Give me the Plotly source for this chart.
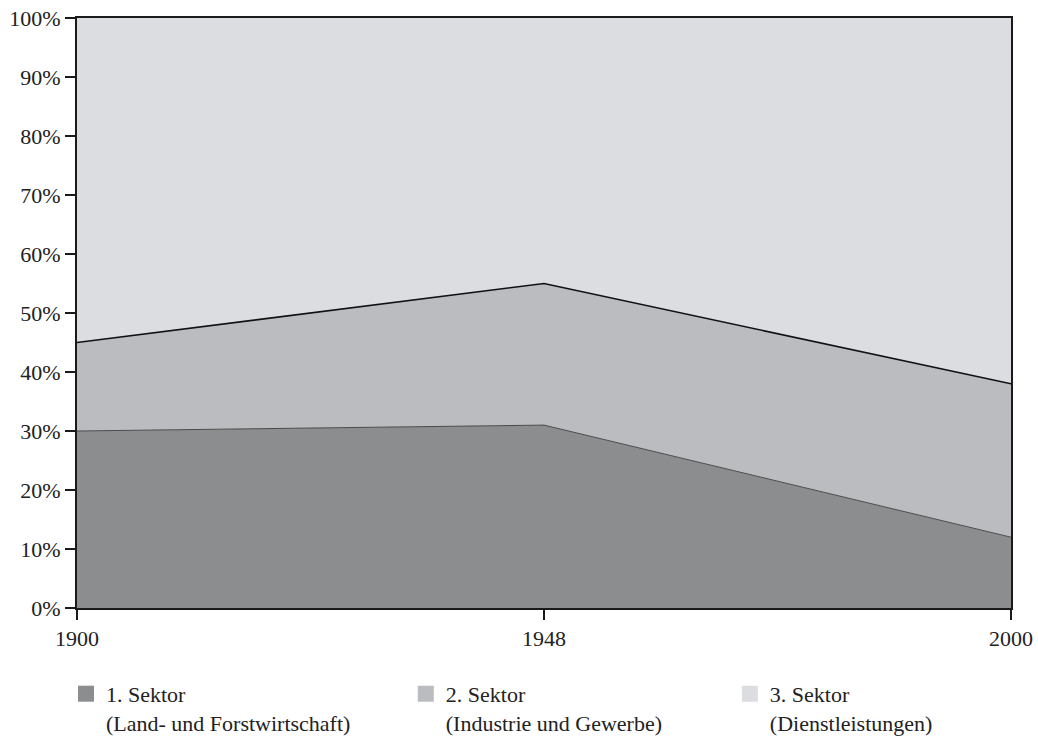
import plotly.graph_objects as go

years = ["1900", "1948", "2000"]
sektor1 = [30, 31, 12]
sektor2 = [15, 24, 26]
sektor3 = [55, 45, 62]
names = ["1. Sektor<br>(Land- und Forstwirtschaft)",
         "2. Sektor<br>(Industrie und Gewerbe)",
         "3. Sektor<br>(Dienstleistungen)"]
colors = ["#8c8d8f", "#bbbcc0", "#dcdde0"]
line_colors = ["#4a4a4a", "#111111", "#dcdde0"]
line_widths = [1, 1.6, 0]
y_ticks = [0, 10, 20, 30, 40, 50, 60, 70, 80, 90, 100]
y_ticklabels = [f"{v}%" for v in y_ticks]

FONT = "Liberation Serif"
fig = go.Figure()
series = [sektor1, sektor2, sektor3]
for i, vals in enumerate(series):
    fig.add_trace(go.Scatter(
        x=years, y=vals, mode="lines", stackgroup="one",
        fillcolor=colors[i],
        line=dict(color=line_colors[i], width=line_widths[i]),
        showlegend=False, hoverinfo="skip"))

legend_ids = ["legend", "legend2", "legend3"]
for i in range(3):
    fig.add_trace(go.Scatter(
        x=[None], y=[None], mode="markers", name=names[i],
        marker=dict(symbol="square", size=16, color=colors[i]),
        legend=legend_ids[i], showlegend=True))

leg_common = dict(orientation="v", yanchor="top", xanchor="left", valign="top",
                  font=dict(family=FONT, size=22, color="#222"),
                  bgcolor="rgba(0,0,0,0)", itemwidth=30)
fig.update_layout(
    width=1038, height=736,
    margin=dict(l=77, r=27, t=18, b=128, autoexpand=False),
    paper_bgcolor="white", plot_bgcolor="white",
    font=dict(family=FONT, size=22, color="#222"),
    legend=dict(x=-0.0118, y=-0.110, **leg_common),
    legend2=dict(x=0.352, y=-0.110, **leg_common),
    legend3=dict(x=0.699, y=-0.110, **leg_common),
    xaxis=dict(type="category", range=[0, 2], showgrid=False, automargin=False,
               showline=True, linecolor="#1a1a1a", linewidth=2, mirror=True,
               ticks="outside", ticklen=10, tickwidth=2, tickcolor="#1a1a1a",
               tickfont=dict(family=FONT, size=22, color="#222"),
               zeroline=False),
    yaxis=dict(range=[0, 100], tickvals=y_ticks, ticktext=y_ticklabels,
               automargin=False,
               showgrid=False, showline=True, linecolor="#1a1a1a", linewidth=2,
               mirror=True, ticks="outside", ticklen=10, tickwidth=2,
               tickcolor="#1a1a1a", tickfont=dict(family=FONT, size=22, color="#222"),
               zeroline=False),
)
fig.write_html("out.html", config={"displayModeBar": False, "staticPlot": True},
               post_script="document.body.style.margin='0';document.body.style.overflow='hidden';")
